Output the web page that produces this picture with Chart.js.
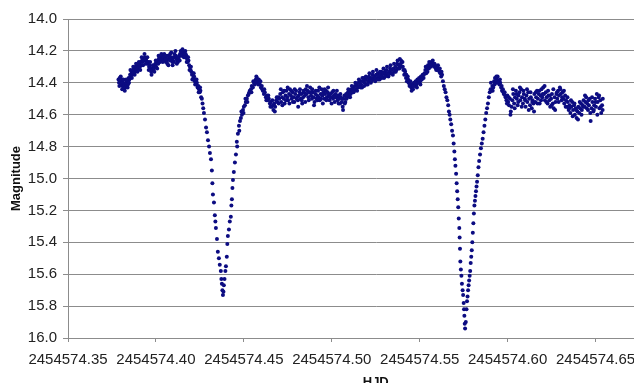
<!DOCTYPE html>
<html>
<head>
<meta charset="utf-8">
<script src="https://cdn.jsdelivr.net/npm/chart.js@4.4.0/dist/chart.umd.min.js"></script>
<style>
html, body { margin: 0; padding: 0; background: #fff; overflow: hidden; width: 634px; height: 383px; }
#wrap { width: 700px; height: 400px; }
</style>
</head>
<body>
<div id="wrap"><canvas id="lightCurve" width="700" height="400"></canvas></div>
<script>
// HJD = hjdBase + fraction, magnitude
var hjdBase = 2454574;

// first maximum, before the primary dip
var maximumA = [[.3787,14.38],[.3790,14.40],[.3794,14.37],[.3798,14.39],[.3802,14.41],[.3806,14.38],[.3810,14.42],[.3813,14.40],[.3817,14.43],[.3821,14.41],[.3825,14.43],[.3829,14.40],[.3833,14.42],[.3837,14.39],[.3841,14.41],[.3845,14.37],[.3849,14.38],[.3853,14.35],[.3857,14.36],[.3861,14.33],[.3865,14.35],[.3869,14.32],[.3873,14.34],[.3877,14.31],[.3881,14.33],[.3885,14.30],[.3889,14.32],[.3893,14.29],[.3897,14.31],[.3901,14.30],[.3905,14.28],[.3909,14.30],[.3913,14.27],[.3917,14.29],[.3921,14.26],[.3925,14.27],[.3929,14.25],[.3933,14.26],[.3937,14.24],[.3941,14.25],[.3945,14.26],[.3949,14.27],[.3953,14.28],[.3957,14.27],[.3961,14.30],[.3965,14.29],[.3969,14.31],[.3973,14.33],[.3977,14.31],[.3981,14.32],[.3985,14.30],[.3989,14.31],[.3993,14.29],[.3997,14.28],[.4001,14.30],[.4005,14.27],[.4009,14.26],[.4013,14.28],[.4017,14.25],[.4021,14.24],[.4025,14.26],[.4029,14.24],[.4033,14.25],[.4037,14.23],[.4041,14.25],[.4045,14.24],[.4049,14.26],[.4053,14.24],[.4057,14.27],[.4061,14.26],[.4065,14.28],[.4069,14.25],[.4073,14.23],[.4077,14.24],[.4081,14.22],[.4085,14.24],[.4089,14.25],[.4093,14.27],[.4097,14.26],[.4101,14.24],[.4105,14.22],[.4109,14.24],[.4113,14.23],[.4117,14.25],[.4121,14.26],[.4125,14.27],[.4129,14.25],[.4133,14.23],[.4137,14.22],[.4141,14.20],[.4145,14.22],[.4149,14.21],[.4153,14.23],[.4157,14.21],[.4161,14.22],[.4165,14.24],[.4169,14.22],[.4173,14.23],[.4177,14.25],[.4181,14.27],[.4185,14.26],[.4189,14.29],[.4193,14.30],[.4197,14.32],[.4201,14.33],[.4205,14.35],[.4209,14.34],[.4213,14.37],[.4217,14.36],[.4221,14.39],[.4225,14.38],[.4229,14.41],[.4233,14.40],[.4237,14.43],[.4241,14.42],[.4245,14.44],[.4249,14.46],[.4253,14.45],[.4257,14.49],[.4261,14.50]];
var maximumExtra = [[.3792,14.42],[.3800,14.36],[.3808,14.44],[.3815,14.38],[.3823,14.45],[.3831,14.38],[.3839,14.43],[.3847,14.40],[.3855,14.32],[.3863,14.37],[.3871,14.30],[.3879,14.35],[.3887,14.28],[.3895,14.33],[.3903,14.27],[.3911,14.32],[.3919,14.24],[.3927,14.29],[.3935,14.22],[.3943,14.28],[.3951,14.24],[.3959,14.32],[.3967,14.27],[.3975,14.35],[.3983,14.29],[.3991,14.33],[.3999,14.26],[.4007,14.31],[.4015,14.23],[.4023,14.27],[.4031,14.22],[.4039,14.27],[.4047,14.22],[.4055,14.25],[.4063,14.23],[.4071,14.29],[.4079,14.26],[.4087,14.21],[.4095,14.29],[.4103,14.27],[.4111,14.20],[.4119,14.28],[.4127,14.24],[.4135,14.26],[.4143,14.23],[.4151,14.19],[.4159,14.24],[.4167,14.20],[.4175,14.27],[.4183,14.24],[.4191,14.32],[.4199,14.30],[.4207,14.38],[.4215,14.34],[.4223,14.41],[.4231,14.38],[.4243,14.46],[.4251,14.43]];

// first eclipse
var eclipseA = [[.4265,14.53],[.4269,14.56],[.4273,14.59],[.4279,14.63],[.4285,14.68],[.4290,14.71],[.4296,14.76],[.4302,14.80],[.4307,14.84],[.4313,14.88],[.4318,14.95],[.4321,15.03],[.4324,15.10],[.4330,15.15],[.4335,15.23],[.4338,15.27],[.4341,15.31],[.4347,15.38],[.4352,15.46],[.4358,15.50],[.4363,15.54],[.4369,15.58],[.4372,15.63],[.4375,15.66],[.4378,15.70],[.4381,15.73],[.4384,15.71],[.4386,15.67],[.4390,15.63],[.4395,15.58],[.4398,15.55],[.4403,15.49],[.4406,15.41],[.4409,15.36],[.4415,15.32],[.4420,15.27],[.4426,15.24],[.4429,15.17],[.4432,15.13],[.4435,15.06],[.4438,15.01],[.4443,14.96],[.4449,14.90],[.4455,14.85],[.4460,14.77],[.4466,14.72],[.4472,14.67],[.4478,14.64],[.4483,14.62],[.4489,14.60],[.4495,14.57],[.4500,14.55],[.4506,14.54],[.4511,14.52],[.4517,14.50],[.4523,14.48],[.4528,14.47],[.4534,14.45],[.4540,14.44],[.4545,14.42],[.4551,14.43],[.4557,14.40],[.4562,14.41],[.4568,14.38],[.4574,14.37],[.4579,14.39],[.4585,14.38],[.4591,14.41],[.4597,14.43],[.4602,14.42],[.4608,14.45],[.4614,14.47],[.4619,14.46],[.4625,14.49],[.4631,14.48],[.4636,14.51],[.4642,14.50],[.4648,14.53],[.4653,14.52],[.4659,14.55],[.4665,14.54],[.4668,14.57],[.4673,14.53],[.4678,14.55],[.4684,14.51],[.4690,14.52],[.4696,14.49],[.4701,14.50]];
var eclipseAExtra = [[.4462,14.80],[.4474,14.70],[.4486,14.58],[.4498,14.59],[.4509,14.50],[.4520,14.52],[.4531,14.46],[.4543,14.46],[.4554,14.39],[.4565,14.40],[.4571,14.36],[.4582,14.41],[.4594,14.39],[.4605,14.44],[.4616,14.44],[.4628,14.51],[.4639,14.48],[.4651,14.55],[.4662,14.51],[.4676,14.58],[.4687,14.49],[.4698,14.53]];

// plateau between the eclipses
var plateau = [[.4707,14.47],[.4712,14.52],[.4717,14.49],[.4722,14.46],[.4727,14.50],[.4732,14.53],[.4737,14.48],[.4742,14.45],[.4747,14.49],[.4752,14.51],[.4757,14.47],[.4762,14.44],[.4767,14.48],[.4772,14.50],[.4777,14.46],[.4782,14.49],[.4787,14.52],[.4792,14.47],[.4797,14.45],[.4802,14.49],[.4807,14.51],[.4812,14.48],[.4817,14.46],[.4822,14.50],[.4827,14.47],[.4832,14.53],[.4837,14.49],[.4842,14.46],[.4847,14.48],[.4852,14.44],[.4857,14.47],[.4862,14.45],[.4867,14.49],[.4872,14.46],[.4877,14.43],[.4882,14.48],[.4887,14.50],[.4892,14.46],[.4897,14.49],[.4902,14.52],[.4907,14.47],[.4912,14.50],[.4917,14.48],[.4922,14.45],[.4927,14.49],[.4932,14.51],[.4937,14.47],[.4942,14.44],[.4947,14.48],[.4952,14.46],[.4957,14.50],[.4962,14.47],[.4967,14.45],[.4972,14.49],[.4977,14.46],[.4982,14.48],[.4987,14.51],[.4992,14.47],[.4997,14.49],[.5002,14.46],[.5007,14.50],[.5012,14.48],[.5017,14.52],[.5022,14.47],[.5027,14.49],[.5032,14.51],[.5037,14.48],[.5042,14.50],[.5047,14.53],[.5052,14.49],[.5057,14.52],[.5062,14.55],[.5067,14.50],[.5072,14.48],[.5077,14.52],[.5082,14.47],[.5087,14.49],[.5092,14.46],[.5097,14.48],[.5102,14.45],[.5107,14.47],[.5112,14.44],[.5117,14.46],[.5122,14.43],[.5127,14.45],[.5132,14.42],[.5137,14.44],[.5142,14.41],[.5147,14.43],[.5152,14.40],[.5157,14.42],[.5162,14.39],[.5167,14.41],[.5172,14.43],[.5177,14.39],[.5182,14.37],[.5187,14.40],[.5192,14.38],[.5197,14.41],[.5202,14.37],[.5207,14.39],[.5212,14.36],[.5217,14.38],[.5222,14.40],[.5227,14.37],[.5232,14.35],[.5237,14.38],[.5242,14.36],[.5247,14.39],[.5252,14.35],[.5257,14.37],[.5262,14.34],[.5267,14.36],[.5272,14.38],[.5277,14.35],[.5282,14.33],[.5287,14.36],[.5292,14.34],[.5297,14.37],[.5302,14.33],[.5307,14.35],[.5312,14.32],[.5317,14.34],[.5322,14.36],[.5327,14.33],[.5332,14.31],[.5337,14.34],[.5342,14.32],[.5347,14.35],[.5352,14.31],[.5357,14.33],[.5362,14.30],[.5367,14.32],[.5372,14.28],[.5377,14.31],[.5382,14.29],[.5387,14.25],[.5392,14.28],[.5397,14.30],[.5402,14.27],[.5407,14.32],[.5412,14.35],[.5417,14.33],[.5422,14.37],[.5427,14.39],[.5432,14.36],[.5437,14.40],[.5442,14.42],[.5447,14.39],[.5452,14.43],[.5457,14.41],[.5462,14.44],[.5467,14.40],[.5472,14.42],[.5477,14.39],[.5482,14.41],[.5487,14.38],[.5492,14.40],[.5497,14.37],[.5502,14.39],[.5507,14.36],[.5512,14.38],[.5517,14.35],[.5522,14.37],[.5527,14.34],[.5532,14.32],[.5537,14.34],[.5542,14.31],[.5547,14.29],[.5552,14.31],[.5557,14.28],[.5562,14.30],[.5567,14.27],[.5572,14.29],[.5577,14.28],[.5582,14.30],[.5587,14.29],[.5592,14.31],[.5597,14.30],[.5602,14.32],[.5607,14.31],[.5612,14.33],[.5617,14.34],[.5622,14.36],[.5627,14.35],[.5632,14.39]];
var plateauExtra = [[.4710,14.44],[.4719,14.54],[.4729,14.45],[.4739,14.51],[.4749,14.43],[.4759,14.53],[.4769,14.45],[.4779,14.52],[.4789,14.44],[.4799,14.50],[.4809,14.55],[.4819,14.44],[.4829,14.51],[.4839,14.45],[.4849,14.52],[.4859,14.42],[.4869,14.51],[.4879,14.46],[.4889,14.44],[.4899,14.54],[.4909,14.45],[.4919,14.51],[.4929,14.43],[.4939,14.50],[.4949,14.53],[.4959,14.44],[.4969,14.51],[.4979,14.43],[.4989,14.49],[.4999,14.53],[.5009,14.45],[.5019,14.49],[.5029,14.45],[.5039,14.53],[.5049,14.47],[.5059,14.50],[.5064,14.57],[.5074,14.53],[.5084,14.50],[.5094,14.44],[.5104,14.49],[.5114,14.42],[.5124,14.46],[.5134,14.40],[.5144,14.45],[.5154,14.38],[.5164,14.43],[.5174,14.37],[.5184,14.42],[.5194,14.36],[.5204,14.41],[.5214,14.34],[.5224,14.39],[.5234,14.33],[.5244,14.38],[.5254,14.32],[.5264,14.38],[.5274,14.33],[.5284,14.37],[.5294,14.31],[.5304,14.36],[.5314,14.30],[.5324,14.35],[.5334,14.29],[.5344,14.34],[.5354,14.28],[.5364,14.33],[.5374,14.26],[.5384,14.31],[.5394,14.26],[.5404,14.30],[.5414,14.32],[.5424,14.35],[.5434,14.38],[.5444,14.41],[.5454,14.45],[.5464,14.42],[.5474,14.40],[.5484,14.43],[.5494,14.38],[.5504,14.41],[.5514,14.36],[.5524,14.35],[.5534,14.30],[.5544,14.33],[.5554,14.27],[.5564,14.29],[.5574,14.26],[.5584,14.28],[.5594,14.32],[.5604,14.29],[.5614,14.31],[.5624,14.33]];

// second eclipse
var eclipseB = [[.5637,14.42],[.5642,14.44],[.5647,14.46],[.5652,14.49],[.5657,14.51],[.5662,14.54],[.5666,14.58],[.5670,14.60],[.5674,14.63],[.5679,14.66],[.5684,14.70],[.5689,14.73],[.5693,14.78],[.5697,14.83],[.5700,14.88],[.5703,14.92],[.5707,14.97],[.5710,15.03],[.5713,15.08],[.5716,15.13],[.5719,15.18],[.5722,15.25],[.5725,15.31],[.5727,15.37],[.5729,15.44],[.5731,15.52],[.5734,15.57],[.5737,15.61],[.5740,15.66],[.5744,15.70],[.5747,15.73],[.5750,15.78],[.5752,15.82],[.5754,15.86],[.5756,15.91],[.5758,15.94],[.5762,15.90],[.5766,15.82],[.5769,15.77],[.5772,15.74],[.5775,15.70],[.5778,15.67],[.5781,15.64],[.5784,15.61],[.5787,15.58],[.5790,15.53],[.5793,15.49],[.5796,15.45],[.5799,15.40],[.5802,15.34],[.5805,15.28],[.5808,15.22],[.5811,15.17],[.5814,15.14],[.5817,15.11],[.5820,15.08],[.5823,15.05],[.5826,15.02],[.5830,14.98],[.5834,14.93],[.5838,14.89],[.5843,14.85],[.5848,14.81],[.5853,14.78],[.5858,14.75],[.5863,14.71],[.5868,14.67],[.5873,14.63],[.5878,14.59],[.5883,14.56],[.5888,14.53],[.5893,14.49],[.5898,14.46],[.5903,14.44],[.5908,14.45],[.5913,14.42],[.5918,14.43],[.5923,14.39],[.5928,14.37],[.5933,14.40],[.5938,14.38],[.5943,14.36],[.5948,14.39],[.5953,14.41],[.5958,14.40],[.5963,14.43],[.5968,14.45],[.5973,14.44],[.5978,14.47],[.5983,14.46],[.5988,14.49],[.5993,14.51],[.5998,14.48],[.6003,14.52],[.6008,14.54],[.6013,14.50],[.6018,14.58],[.6022,14.55]];
var eclipseBExtra = [[.5905,14.40],[.5915,14.45],[.5926,14.41],[.5936,14.36],[.5945,14.40],[.5956,14.38],[.5966,14.42],[.5976,14.46],[.5986,14.48],[.5996,14.53],[.6006,14.49],[.6016,14.60]];

// after the second eclipse
var tail = [[.6027,14.51],[.6032,14.47],[.6037,14.53],[.6042,14.49],[.6047,14.45],[.6052,14.50],[.6057,14.54],[.6062,14.48],[.6067,14.46],[.6072,14.51],[.6077,14.44],[.6082,14.49],[.6087,14.53],[.6092,14.47],[.6097,14.50],[.6102,14.55],[.6107,14.48],[.6112,14.52],[.6117,14.46],[.6122,14.50],[.6127,14.54],[.6132,14.49],[.6137,14.56],[.6142,14.51],[.6147,14.53],[.6152,14.47],[.6157,14.52],[.6162,14.49],[.6167,14.45],[.6172,14.50],[.6177,14.47],[.6182,14.53],[.6187,14.48],[.6192,14.44],[.6197,14.49],[.6202,14.43],[.6207,14.47],[.6212,14.51],[.6217,14.46],[.6222,14.49],[.6227,14.53],[.6232,14.48],[.6237,14.51],[.6242,14.55],[.6247,14.50],[.6252,14.47],[.6257,14.53],[.6262,14.56],[.6267,14.49],[.6272,14.52],[.6277,14.47],[.6282,14.50],[.6287,14.45],[.6292,14.48],[.6297,14.43],[.6302,14.47],[.6307,14.51],[.6312,14.46],[.6317,14.50],[.6322,14.53],[.6327,14.48],[.6332,14.51],[.6337,14.55],[.6342,14.52],[.6347,14.57],[.6352,14.54],[.6357,14.59],[.6362,14.55],[.6367,14.52],[.6372,14.57],[.6377,14.54],[.6382,14.60],[.6387,14.56],[.6392,14.62],[.6397,14.58],[.6402,14.55],[.6407,14.59],[.6412,14.56],[.6417,14.53],[.6422,14.57],[.6427,14.54],[.6432,14.51],[.6437,14.55],[.6442,14.52],[.6447,14.49],[.6452,14.53],[.6457,14.57],[.6462,14.54],[.6467,14.50],[.6472,14.64],[.6477,14.56],[.6482,14.52],[.6487,14.58],[.6492,14.54],[.6497,14.50],[.6502,14.55],[.6507,14.47],[.6512,14.52],[.6517,14.49],[.6522,14.56],[.6527,14.51],[.6532,14.59],[.6537,14.54],[.6541,14.50]];
var tailExtra = [[.6030,14.44],[.6040,14.56],[.6050,14.47],[.6060,14.52],[.6070,14.43],[.6080,14.55],[.6090,14.45],[.6100,14.51],[.6110,14.44],[.6120,14.57],[.6130,14.46],[.6140,14.52],[.6150,14.58],[.6160,14.46],[.6170,14.53],[.6180,14.45],[.6190,14.51],[.6200,14.47],[.6210,14.42],[.6220,14.52],[.6230,14.45],[.6240,14.48],[.6250,14.54],[.6260,14.44],[.6270,14.57],[.6280,14.46],[.6290,14.52],[.6300,14.44],[.6310,14.49],[.6320,14.45],[.6330,14.55],[.6340,14.49],[.6350,14.56],[.6360,14.51],[.6370,14.61],[.6380,14.53],[.6390,14.57],[.6400,14.63],[.6410,14.52],[.6420,14.60],[.6430,14.55],[.6440,14.48],[.6450,14.56],[.6460,14.51],[.6470,14.59],[.6480,14.49],[.6490,14.57],[.6500,14.52],[.6510,14.60],[.6520,14.48],[.6530,14.55],[.6540,14.57]];

var xTicks = [2454574.35, 2454574.40, 2454574.45, 2454574.50, 2454574.55, 2454574.60, 2454574.65, 2454574.70];
var yTicks = [14.0, 14.2, 14.4, 14.6, 14.8, 15.0, 15.2, 15.4, 15.6, 15.8, 16.0];

var points = maximumA.concat(maximumExtra, eclipseA, eclipseAExtra, plateau, plateauExtra,
  eclipseB, eclipseBExtra, tail, tailExtra).map(function (p) {
  return { x: hjdBase + p[0], y: p[1] };
});

var gridGray = "#8c8c8c";
Chart.defaults.font.family = "'Liberation Sans', Arial, sans-serif";

var ctx = document.getElementById("lightCurve").getContext("2d");
var myChart = new Chart(ctx, {
  type: "scatter",
  data: {
    datasets: [
      {
        label: "Magnitude",
        data: points,
        backgroundColor: "#0c0c82",
        borderWidth: 0,
        pointRadius: 2,
        pointHoverRadius: 2,
      },
    ],
  },
  options: {
    responsive: false,
    animation: false,
    layout: { padding: { top: 19, right: 16.5, bottom: 0, left: 0 } },
    plugins: { legend: { display: false }, tooltip: { enabled: false } },
    scales: {
      x: {
        type: "linear",
        min: xTicks[0],
        max: xTicks[xTicks.length - 1],
        afterBuildTicks: function (s) {
          s.ticks = xTicks.map(function (v) { return { value: v }; });
        },
        afterFit: function (s) {
          s.height = 62;
          s.paddingLeft = 0;
          s.paddingRight = 0;
        },
        grid: { drawOnChartArea: false, drawTicks: true, tickLength: 4, color: gridGray },
        border: { color: gridGray },
        ticks: {
          padding: 9,
          maxRotation: 0,
          autoSkip: false,
          color: "#222",
          font: { size: 15 },
          callback: function (v) { return v.toFixed(2); },
        },
        title: {
          display: true,
          text: "HJD",
          color: "#111",
          font: { size: 13, weight: "bold" },
          padding: { top: 0, bottom: 10 },
        },
      },
      y: {
        type: "linear",
        reverse: true,
        min: yTicks[0],
        max: yTicks[yTicks.length - 1],
        afterBuildTicks: function (s) {
          s.ticks = yTicks.map(function (v) { return { value: v }; });
        },
        afterFit: function (s) {
          s.width = 68;
          s.paddingTop = 0;
          s.paddingBottom = 0;
        },
        grid: { color: gridGray, tickLength: 5, drawTicks: true },
        border: { color: gridGray },
        ticks: {
          padding: 6,
          color: "#222",
          font: { size: 15 },
          callback: function (v) { return v.toFixed(1); },
        },
        title: {
          display: true,
          text: "Magnitude",
          color: "#111",
          font: { size: 13, weight: "bold" },
          padding: { top: 9, bottom: 0 },
        },
      },
    },
  },
});
</script>
</body>
</html>
